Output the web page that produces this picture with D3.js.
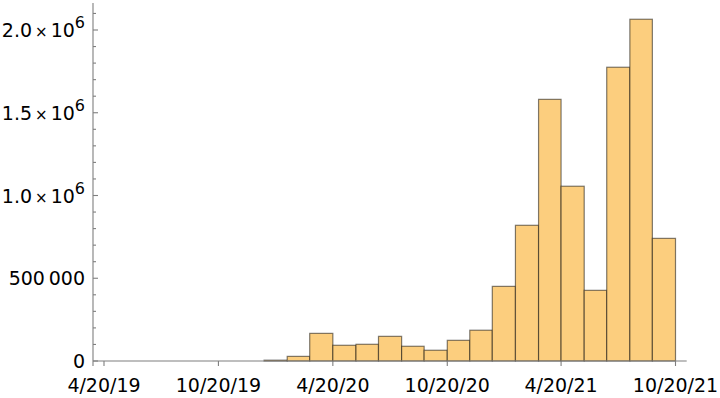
<!DOCTYPE html>
<html>
<head>
<meta charset="utf-8">
<script src="https://cdn.jsdelivr.net/npm/d3@7"></script>
<style>
  html, body { margin: 0; padding: 0; background: #fff; }
  svg { display: block; }
  text { font-family: "DejaVu Sans", sans-serif; }
</style>
</head>
<body>
<svg id="chart" width="720" height="398"></svg>
<script>
// ---- data ----
const binEdges = ["2020-01-01","2020-02-07","2020-03-14","2020-04-20","2020-05-27","2020-07-02",
  "2020-08-08","2020-09-13","2020-10-20","2020-11-25","2020-12-31","2021-02-06","2021-03-15",
  "2021-04-20","2021-05-27","2021-07-02","2021-08-08","2021-09-13","2021-10-20"];
const binCounts = [5000, 28000, 167000, 95000, 101000, 149000, 89000, 65000, 125000, 186000,
  451000, 820000, 1581000, 1056000, 427000, 1775000, 2065000, 741000];
const xTickDates = ["2019-04-20","2019-10-20","2020-04-20","2020-10-20","2021-04-20","2021-10-20"];
const xTickLabels = ["4/20/19","10/20/19","4/20/20","10/20/20","4/20/21","10/20/21"];
const yTickValues = [0, 500000, 1000000, 1500000, 2000000];
const yTickLabels = ["0", "500\u2009000", "1.0|6", "1.5|6", "2.0|6"];
const yMinorStep = 100000;

// ---- layout ----
const svg = d3.select("#chart");
const parse = d3.utcParse("%Y-%m-%d");
const x = d3.scaleUtc()
  .domain([parse("2019-04-20"), parse("2021-10-20")])
  .range([104, 675.5]);
const xLeft = 93, xRight = 686.7;
const y = d3.scaleLinear().domain([0, 2000000]).range([361, 30]);
const yTop = 3;
const axisColor = "#7f7f7f";

// bars
const bins = binCounts.map((c, i) => ({ x0: parse(binEdges[i]), x1: parse(binEdges[i + 1]), c }));
svg.append("g").selectAll("rect").data(bins).join("rect")
  .attr("x", d => x(d.x0))
  .attr("width", d => x(d.x1) - x(d.x0))
  .attr("y", d => y(d.c))
  .attr("height", d => y(0) - y(d.c))
  .attr("fill", "rgb(252,206,126)")
  .attr("stroke", "rgba(0,0,0,0.5)")
  .attr("stroke-width", 1.2);

// axes
const ax = svg.append("g").attr("stroke", axisColor).attr("stroke-width", 1.1);
ax.append("line").attr("x1", xLeft).attr("x2", xRight).attr("y1", y(0)).attr("y2", y(0));
ax.append("line").attr("x1", xLeft).attr("x2", xLeft).attr("y1", yTop).attr("y2", y(0) + 5);

// x ticks
xTickDates.forEach((d, i) => {
  const px = x(parse(d));
  ax.append("line").attr("x1", px).attr("x2", px).attr("y1", y(0)).attr("y2", y(0) + 5);
  svg.append("text").attr("x", px).attr("y", 392).attr("text-anchor", "middle")
    .attr("font-size", 19).attr("fill", "#000").text(xTickLabels[i]);
});

// y minor ticks
const yMax = y.invert(yTop);
d3.range(0, yMax, yMinorStep).forEach(v => {
  if (yTickValues.includes(v)) return;
  ax.append("line").attr("x1", xLeft).attr("x2", xLeft + 3).attr("y1", y(v)).attr("y2", y(v));
});

// y major ticks and labels
yTickValues.forEach((v, i) => {
  ax.append("line").attr("x1", xLeft).attr("x2", xLeft + 5).attr("y1", y(v)).attr("y2", y(v));
  const t = svg.append("text").attr("x", 85).attr("y", y(v) + 7).attr("text-anchor", "end")
    .attr("font-size", 19).attr("fill", "#000");
  const lab = yTickLabels[i];
  if (lab.includes("|")) {
    const [m, e] = lab.split("|");
    t.append("tspan").text(m);
    t.append("tspan").attr("font-size", 15).attr("dx", 3).text("\u00d7");
    t.append("tspan").attr("dx", 3).text("10");
    t.append("tspan").attr("font-size", 16).attr("dy", -9).text(e);
  } else {
    t.text(lab);
  }
});
</script>
</body>
</html>
